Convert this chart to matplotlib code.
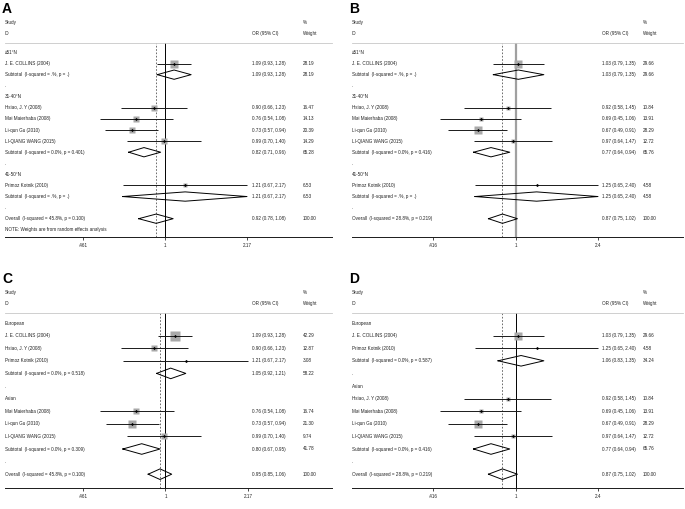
import numpy as np
import matplotlib
matplotlib.use('Agg')
import matplotlib.pyplot as plt
from matplotlib.ticker import NullLocator
from matplotlib.transforms import blended_transform_factory

plt.rcParams['font.family'] = ['Liberation Sans', 'DejaVu Sans']

# panel A: latitude subgroups ...............................................
a_label = ['≥51°N', 'J. E. COLLINS (2004)', 'Subtotal  (I-squared = .%, p = .)', '.',
           '31-40°N', 'Hsiao, J. Y (2008)', 'Mai Maierhaba (2008)', 'Li-qun Gu (2010)',
           'LI-QIANG WANG (2015)', 'Subtotal  (I-squared = 0.0%, p = 0.401)', '.',
           '41-50°N', 'Primoz Kotnik (2010)', 'Subtotal  (I-squared = .%, p = .)', '.',
           'Overall  (I-squared = 45.8%, p = 0.100)',
           'NOTE: Weights are from random effects analysis']
a_kind = ['h', 's', 'd', 'h', 'h', 's', 's', 's', 's', 'd', 'h', 'h', 's', 'd', 'h', 'o', 'h']
a_or = [None, 1.09, 1.09, None, None, 0.90, 0.76, 0.73, 0.99, 0.82, None, None, 1.21, 1.21, None, 0.92, None]
a_lo = [None, 0.93, 0.93, None, None, 0.66, 0.54, 0.57, 0.70, 0.71, None, None, 0.67, 0.67, None, 0.78, None]
a_hi = [None, 1.28, 1.28, None, None, 1.23, 1.08, 0.94, 1.40, 0.96, None, None, 2.17, 2.17, None, 1.08, None]
a_wt = [None, 28.19, 28.19, None, None, 16.47, 14.13, 20.39, 14.29, 65.28, None, None, 6.53, 6.53, None, 100.00, None]
a_ticks = [0.461, 1, 2.17]
a_ticklabels = ['.461', '1', '2.17']

# panel B: latitude subgroups, second model .................................
b_label = ['≥51°N', 'J. E. COLLINS (2004)', 'Subtotal  (I-squared = .%, p = .)', '.',
           '31-40°N', 'Hsiao, J. Y (2008)', 'Mai Maierhaba (2008)', 'Li-qun Gu (2010)',
           'LI-QIANG WANG (2015)', 'Subtotal  (I-squared = 0.0%, p = 0.416)', '.',
           '41-50°N', 'Primoz Kotnik (2010)', 'Subtotal  (I-squared = .%, p = .)', '.',
           'Overall  (I-squared = 28.8%, p = 0.219)', '']
b_kind = ['h', 's', 'd', 'h', 'h', 's', 's', 's', 's', 'd', 'h', 'h', 's', 'd', 'h', 'o', 'h']
b_or = [None, 1.03, 1.03, None, None, 0.92, 0.69, 0.67, 0.97, 0.77, None, None, 1.25, 1.25, None, 0.87, None]
b_lo = [None, 0.79, 0.79, None, None, 0.58, 0.45, 0.49, 0.64, 0.64, None, None, 0.65, 0.65, None, 0.75, None]
b_hi = [None, 1.35, 1.35, None, None, 1.45, 1.06, 0.91, 1.47, 0.94, None, None, 2.40, 2.40, None, 1.02, None]
b_wt = [None, 29.66, 29.66, None, None, 10.84, 13.91, 28.29, 12.72, 65.76, None, None, 4.58, 4.58, None, 100.00, None]
b_ticks = [0.416, 1, 2.4]
b_ticklabels = ['.416', '1', '2.4']

# panel C: ethnicity subgroups ..............................................
c_label = ['European', 'J. E. COLLINS (2004)', 'Hsiao, J. Y (2008)', 'Primoz Kotnik (2010)',
           'Subtotal  (I-squared = 0.0%, p = 0.518)', '.', 'Asian', 'Mai Maierhaba (2008)',
           'Li-qun Gu (2010)', 'LI-QIANG WANG (2015)', 'Subtotal  (I-squared = 0.0%, p = 0.309)',
           '.', 'Overall  (I-squared = 45.8%, p = 0.100)']
c_kind = ['h', 's', 's', 's', 'd', 'h', 'h', 's', 's', 's', 'd', 'h', 'o']
c_or = [None, 1.09, 0.90, 1.21, 1.05, None, None, 0.76, 0.73, 0.99, 0.80, None, 0.95]
c_lo = [None, 0.93, 0.66, 0.67, 0.92, None, None, 0.54, 0.57, 0.70, 0.67, None, 0.85]
c_hi = [None, 1.28, 1.23, 2.17, 1.21, None, None, 1.08, 0.94, 1.40, 0.95, None, 1.06]
c_wt = [None, 42.29, 12.87, 3.08, 58.22, None, None, 16.74, 21.30, 9.74, 41.78, None, 100.00]
c_ticks = [0.461, 1, 2.17]
c_ticklabels = ['.461', '1', '2.17']

# panel D: ethnicity subgroups, second model ................................
d_label = ['European', 'J. E. COLLINS (2004)', 'Primoz Kotnik (2010)',
           'Subtotal  (I-squared = 0.0%, p = 0.587)', '.', 'Asian', 'Hsiao, J. Y (2008)',
           'Mai Maierhaba (2008)', 'Li-qun Gu (2010)', 'LI-QIANG WANG (2015)',
           'Subtotal  (I-squared = 0.0%, p = 0.416)', '.', 'Overall  (I-squared = 28.8%, p = 0.219)']
d_kind = ['h', 's', 's', 'd', 'h', 'h', 's', 's', 's', 's', 'd', 'h', 'o']
d_or = [None, 1.03, 1.25, 1.06, None, None, 0.92, 0.69, 0.67, 0.97, 0.77, None, 0.87]
d_lo = [None, 0.79, 0.65, 0.83, None, None, 0.58, 0.45, 0.49, 0.64, 0.64, None, 0.75]
d_hi = [None, 1.35, 2.40, 1.35, None, None, 1.45, 1.06, 0.91, 1.47, 0.94, None, 1.02]
d_wt = [None, 29.66, 4.58, 34.24, None, None, 10.84, 13.91, 28.29, 12.72, 65.76, None, 100.00]
d_ticks = [0.416, 1, 2.4]
d_ticklabels = ['.416', '1', '2.4']

W, H = 685, 509
FS = 3.3
TXT = '#222222'


def forest(fig, letter, frame, tick_px, cols, row0, step, labels, kind, est, lo, hi, wt,
           ticks, ticklabels, box_k, ref_color, ref_lw):
    left, top, right, bottom = frame
    ax = fig.add_axes([left / W, 1 - bottom / H, (right - left) / W, (bottom - top) / H])
    # log x scale pinned so that the outer ticks land at the given pixels
    k = (np.log(ticks[-1]) - np.log(ticks[0])) / (tick_px[1] - tick_px[0])
    ax.set_xscale('log')
    ax.set_xlim(np.exp(np.log(ticks[0]) + (left - tick_px[0]) * k),
                np.exp(np.log(ticks[0]) + (right - tick_px[0]) * k))
    ax.set_ylim(bottom, top)  # y data == pixel row from figure top

    def fx(px):
        return (px - left) / (right - left)

    tr = blended_transform_factory(ax.transAxes, ax.transData)
    txt = dict(fontsize=FS, color=TXT, va='center', ha='left', transform=tr, clip_on=False)

    ax.text(fx(cols[0]), top - 20.5, 'Study', **txt)
    ax.text(fx(cols[0]), top - 9.5, 'ID', **txt)
    ax.text(fx(cols[1]), top - 9.5, 'OR (95% CI)', **txt)
    ax.text(fx(cols[2]), top - 20.5, '%', **txt)
    ax.text(fx(cols[2]), top - 9.5, 'Weight', **txt)

    ax.axvline(1, color=ref_color, lw=ref_lw, zorder=1)
    overall = est[kind.index('o')]
    ax.axvline(overall, color='#555555', lw=0.6, ls=(0, (2, 2)), zorder=1)

    for i, lab in enumerate(labels):
        y = row0 + i * step
        ax.text(fx(cols[0]), y, lab, **txt)
        if est[i] is None:
            continue
        ax.text(fx(cols[1]), y, '%.2f (%.2f, %.2f)' % (est[i], lo[i], hi[i]), **txt)
        ax.text(fx(cols[2]), y, '%.2f' % wt[i], **txt)
        if kind[i] == 's':
            ax.plot(est[i], y, marker='s', ms=box_k * np.sqrt(wt[i]), color='#a9a9a9',
                    mec='none', zorder=2)
            ax.hlines(y, lo[i], hi[i], color='#1a1a1a', lw=0.7, zorder=3)
            ax.plot(est[i], y, marker='D', ms=1.6, color='black', mec='none', zorder=4)
        else:
            h = 0.42 * step
            ax.plot([lo[i], est[i], hi[i], est[i], lo[i]], [y, y - h, y, y + h, y],
                    color='black', lw=0.7, zorder=3)

    for s in ['left', 'right']:
        ax.spines[s].set_visible(False)
    ax.spines['top'].set_color('#c8c8c8')
    ax.spines['top'].set_linewidth(0.6)
    ax.spines['bottom'].set_color('#1a1a1a')
    ax.spines['bottom'].set_linewidth(0.7)
    ax.set_yticks([])
    ax.set_xticks(ticks)
    ax.set_xticklabels(ticklabels)
    ax.xaxis.set_minor_locator(NullLocator())
    ax.tick_params(axis='x', length=2.5, width=0.5, labelsize=FS, labelcolor=TXT, pad=2)

    fig.text((left - 3) / W, 1 - (top - 30) / H, letter, fontsize=10, fontweight='bold',
             ha='left', va='baseline')
    return ax


def main():
    fig = plt.figure(figsize=(W / 100, H / 100), dpi=100)

    forest(fig, 'A', (5, 43, 332, 237), (83, 247), (5, 252, 303), 52.5, 11.08,
           a_label, a_kind, a_or, a_lo, a_hi, a_wt, a_ticks, a_ticklabels,
           1.0, 'black', 0.7)
    forest(fig, 'B', (352, 43, 683, 237), (433, 598), (352, 602, 643), 52.5, 11.08,
           b_label, b_kind, b_or, b_lo, b_hi, b_wt, b_ticks, b_ticklabels,
           0.95, '#a0a0a0', 1.6)
    forest(fig, 'C', (5, 313, 332, 488), (83, 248), (5, 252, 303), 323, 12.6,
           c_label, c_kind, c_or, c_lo, c_hi, c_wt, c_ticks, c_ticklabels,
           1.2, 'black', 0.7)
    forest(fig, 'D', (352, 313, 683, 488), (433, 598), (352, 602, 643), 323, 12.6,
           d_label, d_kind, d_or, d_lo, d_hi, d_wt, d_ticks, d_ticklabels,
           0.95, 'black', 0.7)

    fig.savefig('out.png', dpi=100)


if __name__ == '__main__':
    main()
